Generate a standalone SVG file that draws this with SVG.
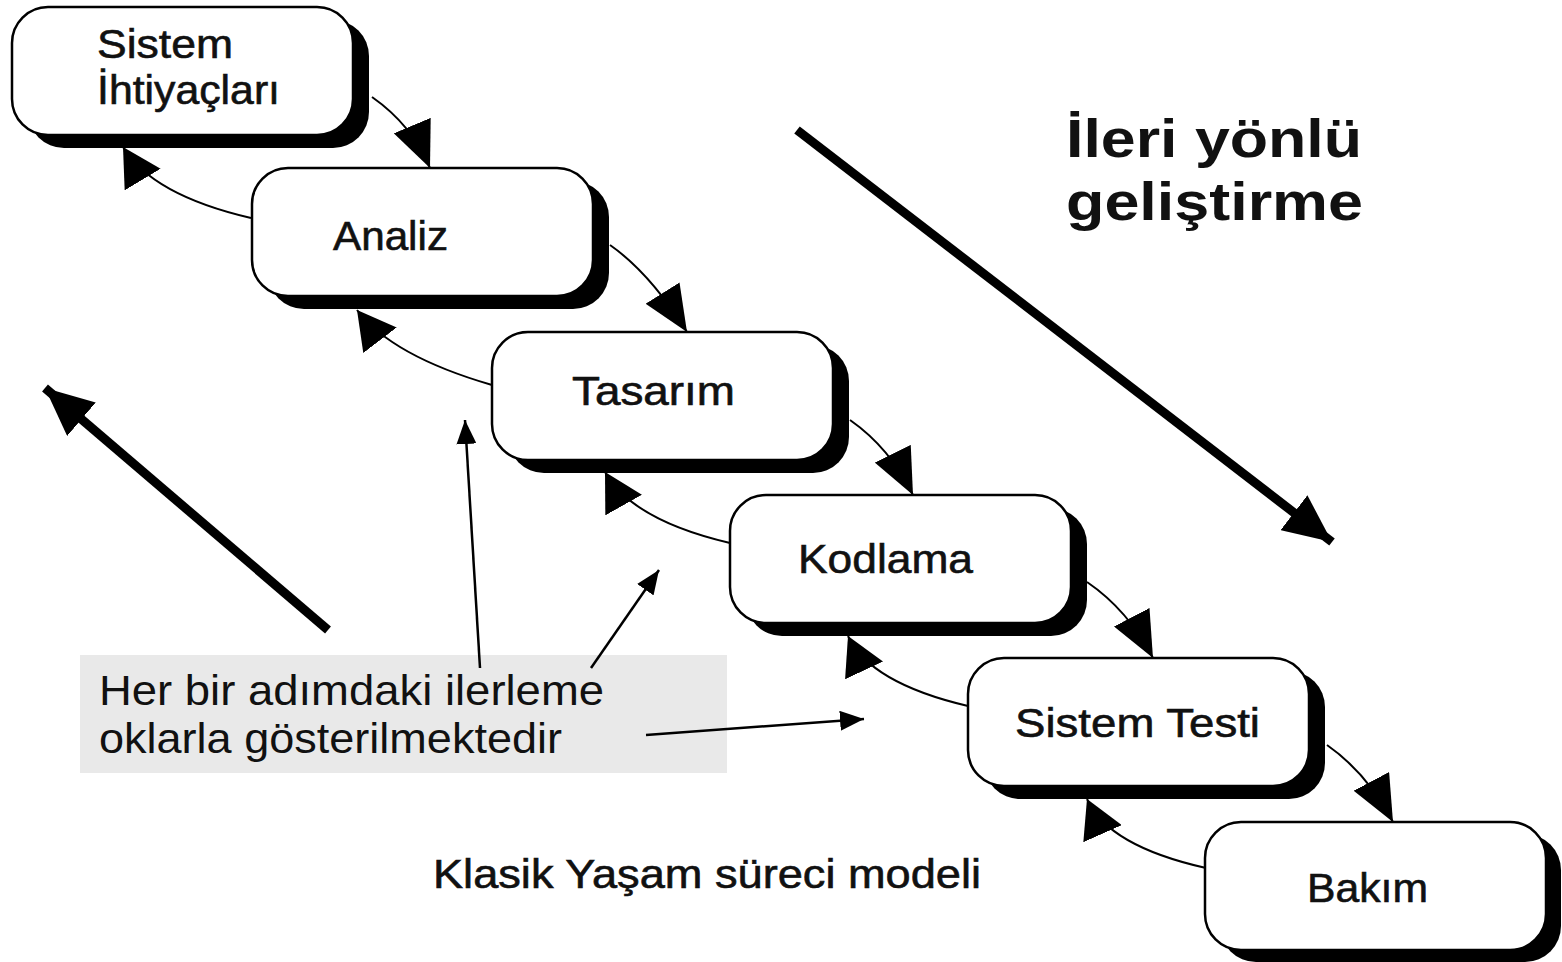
<svg xmlns="http://www.w3.org/2000/svg" width="1562" height="962" viewBox="0 0 1562 962">
<style>
.box{fill:#fff;stroke:#000;stroke-width:2.5}
.sh{fill:#000}
.t{font-family:"Liberation Sans",Arial,sans-serif;font-size:40px;fill:#111;stroke:#111;stroke-width:0.6}
.c{fill:none;stroke:#000;stroke-width:2}
.big{fill:none;stroke:#000;stroke-width:9}
.thin{fill:none;stroke:#000;stroke-width:2.5}
</style>
<defs>
<marker id="fwd" markerUnits="userSpaceOnUse" viewBox="-46 -20 46 40" refX="0" refY="0" markerWidth="46" markerHeight="40" orient="auto"><path d="M0,0 L-46,-20 L-46,20 Z" fill="#000"/></marker>
<marker id="bwd" markerUnits="userSpaceOnUse" viewBox="-38 -21 38 42" refX="0" refY="0" markerWidth="38" markerHeight="42" orient="auto"><path d="M0,0 L-38,-21 L-38,21 Z" fill="#000"/></marker>
<marker id="bigh" markerUnits="userSpaceOnUse" viewBox="-48 -22 48 44" refX="0" refY="0" markerWidth="48" markerHeight="44" orient="auto"><path d="M0,0 L-48,-22 L-48,22 Z" fill="#000"/></marker>
<marker id="sm" markerUnits="userSpaceOnUse" viewBox="-24 -10 24 20" refX="0" refY="0" markerWidth="24" markerHeight="20" orient="auto"><path d="M0,0 L-24,-10 L-24,10 Z" fill="#000"/></marker>
</defs>
<rect width="1562" height="962" fill="#fff"/>

<g id="connectors">
<path class="c" d="M372,97 Q412,125 430,168" marker-end="url(#fwd)"/>
<path class="c" d="M251,218 Q152,195 123,147" marker-end="url(#bwd)"/>
<path class="c" d="M610,245 Q650,273 687,332" marker-end="url(#fwd)"/>
<path class="c" d="M492,385 Q392,356 357,310" marker-end="url(#bwd)"/>
<path class="c" d="M850,420 Q890,448 913,495" marker-end="url(#fwd)"/>
<path class="c" d="M730,543 Q632,520 605,472" marker-end="url(#bwd)"/>
<path class="c" d="M1087,582 Q1128,610 1153,658" marker-end="url(#fwd)"/>
<path class="c" d="M968,706 Q870,683 848,636" marker-end="url(#bwd)"/>
<path class="c" d="M1327,745 Q1367,773 1393,822" marker-end="url(#fwd)"/>
<path class="c" d="M1206,868 Q1108,846 1087,799" marker-end="url(#bwd)"/>
</g>

<g id="big-arrows">
<line class="big" x1="328" y1="630" x2="45" y2="388" marker-end="url(#bigh)"/>
<line class="big" x1="797" y1="130" x2="1332" y2="542" marker-end="url(#bigh)"/>
</g>

<g id="n1"><rect class="sh" x="28" y="20" width="341" height="128" rx="36"/><rect class="box" x="12" y="7" width="341" height="128" rx="36"/>
<text class="t" x="97" y="58" textLength="136" lengthAdjust="spacingAndGlyphs">Sistem</text>
<text class="t" x="97" y="104" textLength="183" lengthAdjust="spacingAndGlyphs">İhtiyaçları</text></g>
<g id="n2"><rect class="sh" x="268" y="181" width="341" height="128" rx="36"/><rect class="box" x="252" y="168" width="341" height="128" rx="36"/>
<text class="t" x="333" y="250" textLength="115" lengthAdjust="spacingAndGlyphs">Analiz</text></g>
<g id="n3"><rect class="sh" x="508" y="345" width="341" height="128" rx="36"/><rect class="box" x="492" y="332" width="341" height="128" rx="36"/>
<text class="t" x="572" y="405" textLength="163" lengthAdjust="spacingAndGlyphs">Tasarım</text></g>
<g id="n4"><rect class="sh" x="746" y="508" width="341" height="128" rx="36"/><rect class="box" x="730" y="495" width="341" height="128" rx="36"/>
<text class="t" x="798" y="573" textLength="175" lengthAdjust="spacingAndGlyphs">Kodlama</text></g>
<g id="n5"><rect class="sh" x="984" y="671" width="341" height="128" rx="36"/><rect class="box" x="968" y="658" width="341" height="128" rx="36"/>
<text class="t" x="1015" y="737" textLength="245" lengthAdjust="spacingAndGlyphs">Sistem Testi</text></g>
<g id="n6"><rect class="sh" x="1220" y="834" width="341" height="128" rx="36"/><rect class="box" x="1205" y="822" width="341" height="128" rx="36"/>
<text class="t" x="1307" y="902" textLength="121" lengthAdjust="spacingAndGlyphs">Bakım</text></g>

<g id="title">
<text class="t" x="1066" y="157" style="font-size:53px;font-weight:bold;stroke-width:0" textLength="296" lengthAdjust="spacingAndGlyphs">İleri yönlü</text>
<text class="t" x="1066" y="220" style="font-size:53px;font-weight:bold;stroke-width:0" textLength="297" lengthAdjust="spacingAndGlyphs">geliştirme</text>
</g>

<g id="note">
<rect x="80" y="655" width="647" height="118" fill="#e9e9e9"/>
<text class="t" x="99" y="705" style="font-size:42px;stroke-width:0" textLength="505" lengthAdjust="spacingAndGlyphs">Her bir adımdaki ilerleme</text>
<text class="t" x="99" y="753" style="font-size:42px;stroke-width:0" textLength="463" lengthAdjust="spacingAndGlyphs">oklarla gösterilmektedir</text>
</g>
<g id="note-arrows">
<line class="thin" x1="480" y1="668" x2="465" y2="420" marker-end="url(#sm)"/>
<line class="thin" x1="591" y1="668" x2="659" y2="570" marker-end="url(#sm)"/>
<line class="thin" x1="646" y1="735" x2="864" y2="719" marker-end="url(#sm)"/>
</g>

<g id="caption">
<text class="t" x="433" y="888" textLength="548" lengthAdjust="spacingAndGlyphs">Klasik Yaşam süreci modeli</text>
</g>
</svg>
